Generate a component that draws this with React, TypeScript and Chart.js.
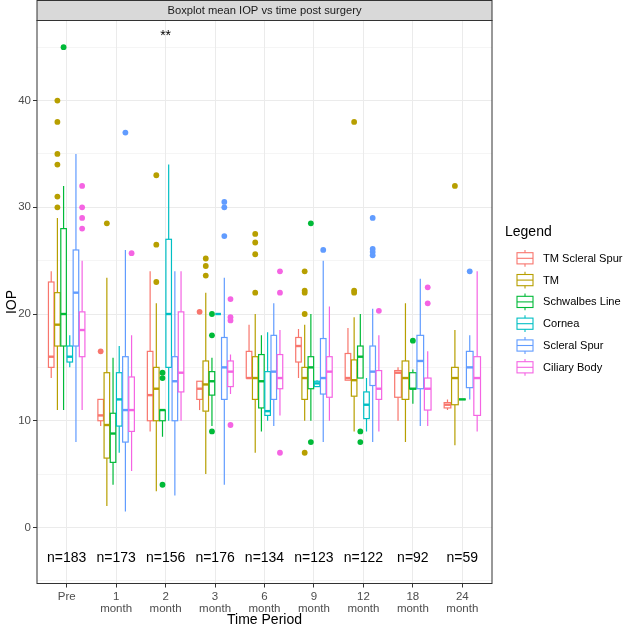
import { useEffect, useRef } from "react";
import { Chart, registerables } from "chart.js";

Chart.register(...registerables);

const FAMILY = "'Liberation Sans', Arial, Helvetica, sans-serif";

const categories = ["Pre", "1 month", "2 month", "3 month", "6 month", "9 month", "12 month", "18 month", "24 month"];
const tickLabels: (string | string[])[] = ["Pre", ["1", "month"], ["2", "month"], ["3", "month"], ["6", "month"], ["9", "month"], ["12", "month"], ["18", "month"], ["24", "month"]];
const nLabels = ["n=183", "n=173", "n=156", "n=176", "n=134", "n=123", "n=122", "n=92", "n=59"];
const yTicks = [-5, 0, 5, 10, 15, 20, 25, 30, 35, 40, 45];

const groupNames = ["TM Scleral Spur", "TM", "Schwalbes Line", "Cornea", "Scleral Spur", "Ciliary Body"];
const groupColors = ["#F8766D", "#B79F00", "#00BA38", "#00BFC4", "#619CFF", "#F564E3"];

// [lower whisker, Q1, median, Q3, upper whisker] per time period
type Box = [number, number, number, number, number] | null;
const tmScleralSpur: Box[] = [
  [14, 15, 16, 23, 24], [9.5, 10, 10.5, 12, 12], [9, 10, 12.4, 16.5, 24], [11, 12, 13, 13.7, 13.7],
  [14, 14, 14, 16.5, 19], [14, 15.5, 17, 17.8, 18.6], [13.8, 13.8, 14, 16.3, 18.7], [10, 12.2, 14.5, 14.7, 15], [11, 11.2, 11.5, 11.7, 12],
];
const tm: Box[] = [
  [11, 17, 19, 22, 29], [2, 6.5, 9.6, 14.5, 23.4], [3.4, 10, 13, 15, 21], [5, 10.9, 13.4, 15.6, 22],
  [7, 12, 14, 16, 20], [10, 12, 14, 15, 19], [9, 12.3, 13.8, 15.7, 19.7], [8, 12, 14, 15.6, 21], [7.7, 11.5, 14, 15, 18.5],
];
const schwalbesLine: Box[] = [
  [11, 17, 20, 28, 32], [4, 6.1, 8.8, 10.7, 15.9], [8.5, 10, 11, 11, 11], [9.5, 12.4, 13.7, 14.6, 15.9],
  [9, 11.2, 13.7, 16.2, 18], [10, 13, 15, 16, 20], [14, 14, 16, 17, 20], [11.6, 13, 13, 14.5, 14.8], [12, 12, 12, 12, 12],
];
const cornea: Box[] = [
  [15, 15.5, 16, 17, 18], [7, 9.5, 12, 14.5, 17], [10, 15, 20, 27, 34], [20, 20, 20, 20, 20],
  [10, 10.5, 10.9, 14.6, 18.3], [13.2, 13.2, 13.5, 13.7, 13.8], [9, 10.2, 11.5, 12.7, 14], null, null,
];
const scleralSpur: Box[] = [
  [8, 17, 22, 26, 35], [1.5, 8, 11, 16, 26], [3, 10, 13.7, 16, 24], [4, 12, 15, 17.8, 23.4],
  [9.5, 12, 14.6, 18, 21], [8, 12.5, 14, 17.7, 25], [8, 13.3, 14.6, 17, 20.5], [9.5, 13, 15.6, 18, 23.3], [12, 13.1, 15, 16.5, 18],
];
const ciliaryBody: Box[] = [
  [11, 16, 18.5, 20.2, 25], [5.3, 9, 11, 14.1, 18], [10, 12.7, 14.5, 20.2, 24], [12.5, 13.2, 14.6, 15.6, 16.2],
  [10.5, 13, 14, 16.2, 18.5], [10, 12.2, 14.6, 16, 20.7], [9, 12, 13, 14.7, 18], [9.5, 11, 13, 14, 16.5], [9, 10.5, 14, 16, 24],
];

// outliers per time period
const tmScleralSpurOut: number[][] = [[], [16.5], [], [20.2], [], [], [], [], []];
const tmOut: number[][] = [[40, 38, 35, 34, 31, 30], [28.5], [33, 26.5, 23], [25.2, 24.5, 23.6], [27.5, 26.7, 25.6, 22], [24, 22.2, 22, 20, 7], [38, 22.2, 22], [], [32]];
const schwalbesLineOut: number[][] = [[45], [], [14.5, 14, 4], [20, 18, 9], [], [28.5, 8], [9, 8], [17.5], []];
const corneaOut: number[][] = [[], [], [], [], [], [], [], [], []];
const scleralSpurOut: number[][] = [[], [37], [], [30.5, 30, 27.3], [], [26], [29, 26.1, 25.8, 25.5], [], [24]];
const ciliaryBodyOut: number[][] = [[32, 30, 29, 28], [25.7], [], [21.4, 19.7, 19.4, 9.6], [24, 22, 7], [], [20.3], [22.5, 21], []];

const groupStats = [tmScleralSpur, tm, schwalbesLine, cornea, scleralSpur, ciliaryBody];
const groupOutliers = [tmScleralSpurOut, tmOut, schwalbesLineOut, corneaOut, scleralSpurOut, ciliaryBodyOut];

const annotationText = "**";
const annotationAt = { x: 2, y: 46 };
const nLabelY = -2.9;

function dodge(ci: number, gi: number) {
  const present = groupStats.map((s, g) => (s[ci] ? g : -1)).filter((g) => g >= 0);
  const k = present.length;
  const slot = 0.75 / k;
  const j = present.indexOf(gi);
  return { center: ci - 0.375 + slot * (j + 0.5), half: (slot * 0.9) / 2 };
}

const boxPlugin = {
  id: "boxes",
  beforeDatasetsDraw(chart: any) {
    const { ctx } = chart;
    const x = chart.scales.x;
    const y = chart.scales.y;
    ctx.save();
    groupStats.forEach((stats, gi) => {
      stats.forEach((s, ci) => {
        if (!s) return;
        const [lo, q1, med, q3, hi] = s;
        const d = dodge(ci, gi);
        const xc = x.getPixelForValue(d.center);
        const xl = x.getPixelForValue(d.center - d.half);
        const xr = x.getPixelForValue(d.center + d.half);
        const yt = y.getPixelForValue(q3);
        const yb = y.getPixelForValue(q1);
        ctx.strokeStyle = groupColors[gi];
        ctx.lineWidth = 1.2;
        ctx.beginPath();
        ctx.moveTo(xc, y.getPixelForValue(hi));
        ctx.lineTo(xc, yt);
        ctx.moveTo(xc, yb);
        ctx.lineTo(xc, y.getPixelForValue(lo));
        ctx.stroke();
        ctx.fillStyle = "#FFFFFF";
        ctx.fillRect(xl, yt, xr - xl, yb - yt);
        ctx.strokeRect(xl, yt, xr - xl, yb - yt);
        ctx.lineWidth = 2.4;
        const ym = y.getPixelForValue(med);
        ctx.beginPath();
        ctx.moveTo(xl, ym);
        ctx.lineTo(xr, ym);
        ctx.stroke();
      });
    });
    ctx.restore();
  },
  afterDatasetsDraw(chart: any) {
    const { ctx, chartArea: a } = chart;
    ctx.save();
    ctx.strokeStyle = "#333333";
    ctx.lineWidth = 1;
    ctx.strokeRect(a.left, a.top, a.right - a.left, a.bottom - a.top);
    ctx.restore();
  },
  afterDraw(chart: any) {
    const { ctx, chartArea: a } = chart;
    const x = chart.scales.x;
    const y = chart.scales.y;
    ctx.save();
    // strip
    ctx.fillStyle = "#D9D9D9";
    ctx.fillRect(a.left, 0.5, a.right - a.left, a.top - 0.5);
    ctx.strokeStyle = "#333333";
    ctx.lineWidth = 1;
    ctx.strokeRect(a.left, 0.5, a.right - a.left, a.top - 0.5);
    ctx.fillStyle = "#1A1A1A";
    ctx.font = `11.2px ${FAMILY}`;
    ctx.textAlign = "center";
    ctx.textBaseline = "middle";
    ctx.fillText("Boxplot mean IOP vs time post surgery", (a.left + a.right) / 2, (a.top + 0.5) / 2 + 0.5);
    // n labels
    ctx.fillStyle = "#000000";
    ctx.font = `14px ${FAMILY}`;
    categories.forEach((_, i) => {
      ctx.fillText(nLabels[i], x.getPixelForValue(i), y.getPixelForValue(nLabelY));
    });
    // annotation
    ctx.font = `14px ${FAMILY}`;
    ctx.fillText(annotationText, x.getPixelForValue(annotationAt.x), y.getPixelForValue(annotationAt.y));
    // legend
    ctx.textAlign = "left";
    ctx.font = `14px ${FAMILY}`;
    ctx.fillText("Legend", 505, 232);
    ctx.font = `11.1px ${FAMILY}`;
    groupNames.forEach((name, gi) => {
      const cy = 258.3 + gi * 21.8;
      ctx.strokeStyle = groupColors[gi];
      ctx.lineWidth = 1.1;
      ctx.beginPath();
      ctx.moveTo(525, cy - 8.4);
      ctx.lineTo(525, cy + 8.4);
      ctx.stroke();
      ctx.fillStyle = "#FFFFFF";
      ctx.fillRect(517, cy - 5.6, 16, 11.2);
      ctx.strokeRect(517, cy - 5.6, 16, 11.2);
      ctx.beginPath();
      ctx.moveTo(517, cy);
      ctx.lineTo(533, cy);
      ctx.stroke();
      ctx.fillStyle = "#000000";
      ctx.fillText(name, 543, cy + 0.5);
    });
    ctx.restore();
  },
};

export default function App() {
  const ref = useRef<HTMLCanvasElement>(null);
  useEffect(() => {
    const datasets = groupNames.map((name, gi) => ({
      type: "scatter" as const,
      label: name,
      data: groupOutliers[gi].flatMap((vals, ci) => vals.map((v) => ({ x: dodge(ci, gi).center, y: v }))),
      backgroundColor: groupColors[gi],
      borderWidth: 0,
      pointRadius: 2.9,
      pointHoverRadius: 2.9,
    }));
    const chart = new Chart(ref.current as HTMLCanvasElement, {
      type: "scatter",
      data: { datasets },
      plugins: [boxPlugin],
      options: {
        animation: false,
        responsive: false,
        maintainAspectRatio: false,
        events: [],
        layout: { padding: { left: 0, right: 138, top: 20.5, bottom: 0 } },
        plugins: { legend: { display: false }, tooltip: { enabled: false } },
        scales: {
          x: {
            type: "linear",
            min: -0.6,
            max: 8.6,
            afterBuildTicks: (s: any) => {
              s.ticks = categories.map((_, i) => ({ value: i }));
            },
            afterFit: (s: any) => {
              s.height = 45.5;
            },
            ticks: {
              callback: (v: any) => tickLabels[Math.round(Number(v))],
              color: "#4D4D4D",
              font: { size: 11.5, family: FAMILY, lineHeight: 1.05 },
              padding: 3,
              maxRotation: 0,
              autoSkip: false,
            },
            grid: { color: "#EBEBEB", lineWidth: 1, tickColor: "#333333", tickLength: 4 },
            border: { display: false },
            title: { display: true, text: "Time Period", color: "#000000", font: { size: 14, family: FAMILY }, padding: 0 },
          },
          y: {
            type: "linear",
            min: -5.25,
            max: 47.5,
            afterBuildTicks: (s: any) => {
              s.ticks = yTicks.map((v) => ({ value: v }));
            },
            afterFit: (s: any) => {
              s.width = 37;
            },
            ticks: {
              callback: (v: any) => (Number(v) % 10 === 0 ? String(v) : ""),
              color: "#4D4D4D",
              font: { size: 11.5, family: FAMILY },
              padding: 2,
              autoSkip: false,
            },
            grid: {
              color: "#EBEBEB",
              lineWidth: (c: any) => (c.tick && c.tick.value % 10 === 0 ? 1 : 0.5),
              tickColor: (c: any) => (c.tick && c.tick.value % 10 === 0 ? "#333333" : "rgba(0,0,0,0)"),
              tickLength: 4,
            },
            border: { display: false },
            title: { display: true, text: "IOP", color: "#000000", font: { size: 14, family: FAMILY }, padding: { top: 4, bottom: 0 } },
          },
        },
      },
    } as any);
    return () => chart.destroy();
  }, []);
  return (
    <div style={{ position: "absolute", left: 0, top: 0, width: 630, height: 629, background: "#FFFFFF" }}>
      <canvas ref={ref} width={630} height={629} style={{ display: "block" }} />
    </div>
  );
}
